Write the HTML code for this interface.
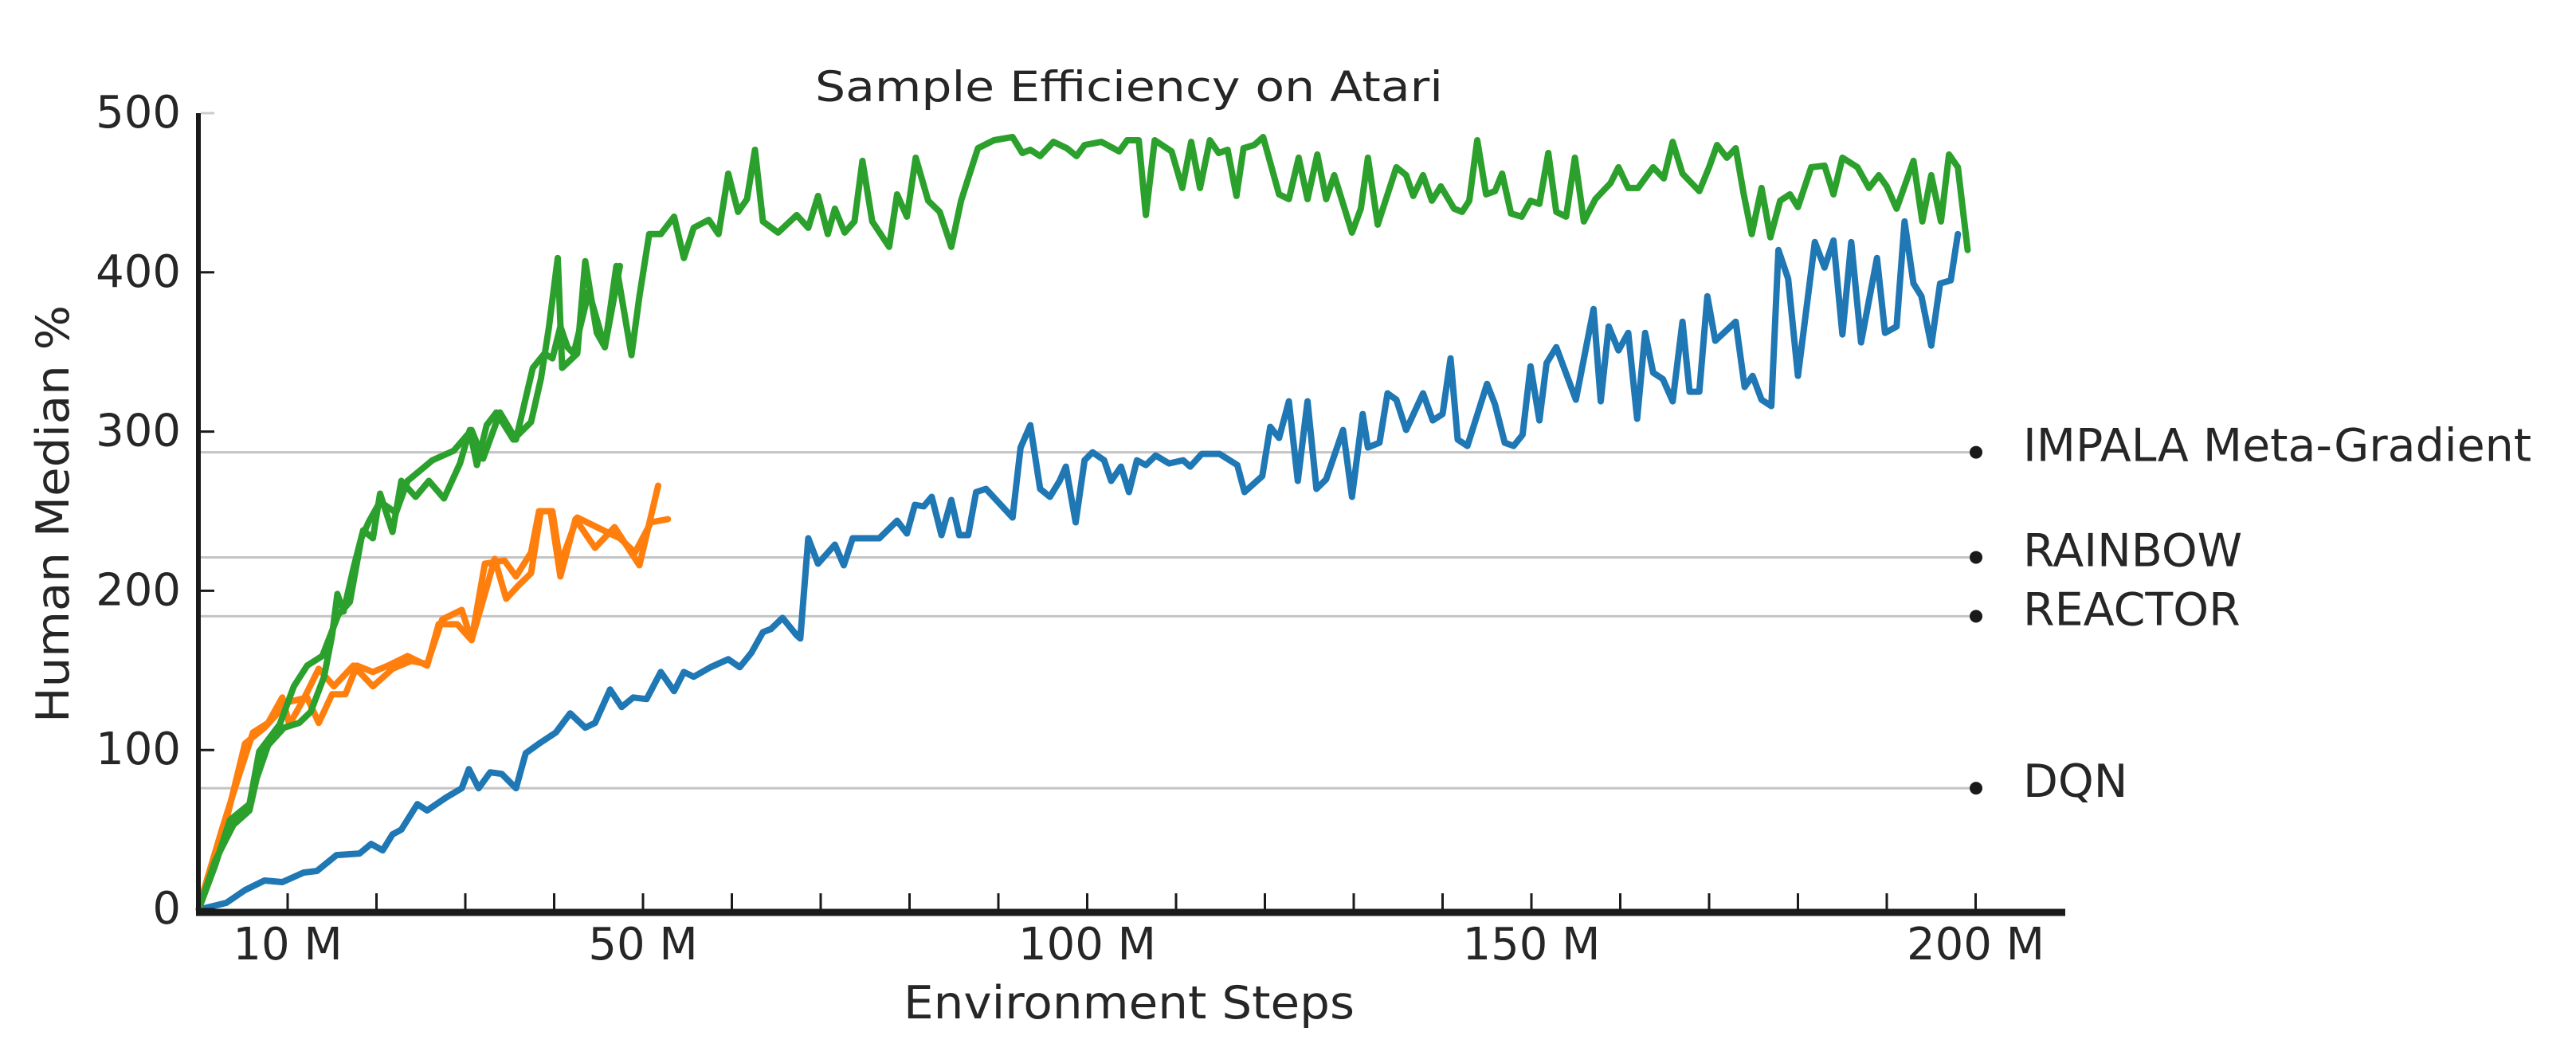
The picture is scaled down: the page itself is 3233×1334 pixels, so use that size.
<!DOCTYPE html>
<html><head><meta charset="utf-8"><style>
html,body{margin:0;padding:0;background:#fff;}
svg{display:block;}
text{font-family:"DejaVu Sans","Liberation Sans",sans-serif;fill:#262626;}
</style></head>
<body>
<svg id="chart" width="3233" height="1334" viewBox="0 0 3233 1334" xmlns="http://www.w3.org/2000/svg">
<text x="1417" y="127" font-size="53" text-anchor="middle" textLength="788" lengthAdjust="spacingAndGlyphs">Sample Efficiency on Atari</text>
<text x="1417" y="1278" font-size="57" text-anchor="middle" textLength="566" lengthAdjust="spacingAndGlyphs">Environment Steps</text>
<text x="0" y="0" font-size="57" text-anchor="middle" textLength="524" lengthAdjust="spacingAndGlyphs" transform="translate(86,645) rotate(-90)">Human Median %</text>
<g id="grid"></g><g id="series"></g><g id="axes"></g>
</svg>
<script>
const yTicks=[0,100,200,300,400,500];
const xTickSteps=[10,20,30,40,50,60,70,80,90,100,110,120,130,140,150,160,170,180,190,200];
const xLabelSteps=[10,50,100,150,200];
const xLabels=["10 M","50 M","100 M","150 M","200 M"];
const refNames=["IMPALA Meta-Gradient","RAINBOW","REACTOR","DQN"];
const refValues=[287,221,184,76];

const blueSteps=[0.2,3.1,5.2,7.4,9.4,11.8,13.3,15.5,18.1,19.4,20.7,21.8,22.8,24.6,25.7,27.8,29.6,30.4,31.5,32.8,34.1,35.7,36.8,38.3,40.2,41.8,43.5,44.6,46.3,47.6,48.9,50.4,52,53.5,54.6,55.7,57.6,59.6,60.9,62.2,63.5,64.4,65.7,67.3,67.7,68.6,69.7,71.6,72.6,73.6,76.6,78.6,79.7,80.6,81.6,82.5,83.6,84.7,85.6,86.6,87.5,88.6,91.6,92.5,93.6,94.7,95.8,96.9,97.6,98.7,99.7,100.6,101.9,102.7,103.8,104.7,105.6,106.6,107.7,109.2,110.8,111.6,112.9,114.9,116.9,117.7,119.7,120.6,121.6,122.7,123.7,124.8,125.8,126.9,128.8,129.8,131,131.6,132.9,133.8,134.8,135.9,137.8,138.9,140,140.9,141.7,142.8,145,145.9,147,148,149,149.9,150.9,151.7,152.8,155,157,157.8,158.7,159.8,160.9,161.9,162.8,163.7,164.8,165.9,167,167.8,168.9,169.8,170.7,173,174,174.9,175.9,177,177.8,178.9,180,181.9,183,184,185,186,187.1,188.9,189.8,191.1,192,193,193.9,195,196,197.2,198];
const blueValues=[0,4,12,18,17,23,24,34,35,41,37,47,50,66,62,70,76,88,76,86,85,76,98,104,111,123,114,117,138,127,133,132,149,137,149,146,152,157,152,161,174,176,183,172,170,233,217,229,216,233,233,244,236,254,253,259,235,257,235,235,262,264,246,290,304,264,259,269,278,243,282,287,282,269,278,262,282,279,285,280,282,278,286,286,279,262,272,303,296,319,269,319,264,270,301,259,311,290,293,324,320,301,324,307,311,346,295,291,330,317,293,291,298,341,307,343,353,320,377,319,366,351,362,308,362,337,333,319,369,325,325,385,357,369,328,335,320,316,414,396,335,419,403,420,361,419,356,409,362,366,432,393,385,354,393,395,424];

const greenASteps=[0,1.8,3.9,5.7,6.5,7.8,9.6,11.3,12.6,14.1,15,15.6,16.3,17.4,18.5,19.6,20.4,21.8,22.8,24.4,25.9,27.6,29.4,30.5,31.3,32.4,33.5,35.4,37.4,38.5,39.4,40.4,40.9,42.6,43.5,44.8,45.7,47,48.7,49.6,50.7,52,53.5,54.6,55.7,57.4,58.5,59.6,60.7,61.7,62.6,63.5,65.2,67.3,68.6,69.7,70.8,71.6,72.7,73.8,74.7,75.8,77.7,78.6,79.7,80.7,82.1,83.4,84.7,85.8,86.6,87.7,89.5,91.6,92.7,93.6,94.7,96.2,97.7,98.8,99.7,101.6,103.6,104.5,105.8,106.6,107.6,109.5,110.7,111.7,112.7,113.8,114.8,115.8,116.8,117.6,118.8,119.8,121.6,122.7,123.8,124.8,125.9,126.9,127.8,129.8,130.8,131.6,132.7,134.8,135.9,136.7,137.8,138.8,139.8,141.3,142.2,143,143.9,144.9,145.9,146.7,147.7,148.9,149.9,150.9,151.9,152.8,153.9,154.9,155.9,157.2,158.9,159.8,160.9,162,163.7,164.9,165.9,167,168.9,170,170.9,172,173,173.9,174.8,175.9,176.9,178,179.1,180,181.5,183,184,185,186.7,188,189.1,190,191.1,193,194,195,196.1,197,198,199.1];
const greenAValues=[0,30,53,62,82,103,114,117,124,146,172,198,187,214,238,233,261,237,269,259,269,258,280,301,279,304,312,295,306,333,365,409,340,349,407,362,353,404,348,385,424,424,435,409,428,433,424,462,438,446,477,432,425,436,428,448,424,440,425,432,470,432,416,449,435,472,445,438,416,445,459,478,483,485,475,477,473,482,478,473,480,482,476,483,483,436,483,476,453,482,453,483,475,477,448,478,480,485,449,446,472,446,474,446,461,425,440,472,430,466,461,448,461,445,454,440,438,445,483,449,451,462,437,435,445,443,475,438,435,472,432,446,456,466,453,453,466,459,482,462,451,466,480,472,478,449,424,453,422,445,449,441,466,467,449,472,466,453,461,454,440,470,432,461,432,474,466,414];
const greenBSteps=[0,1.8,3.5,5.7,6.8,9.1,10.7,12.2,13.9,15.7,17,18.3,19.1,20.4,22.2,23.5,24.8,26.3,28.7,30.7,32,33.9,35.7,37.6,38.9,39.8,40.7,41.5,42.2,43.9,45.7,47.4];
const greenBValues=[0,27,56,66,99,116,140,153,159,185,193,233,243,256,249,269,275,282,288,301,283,312,295,340,349,346,366,353,349,388,353,404];

const orangeASteps=[0.2,2.6,4.4,6.1,7.8,9.4,10.2,11.8,13.5,15.2,17.4,19.6,21.8,23.9,25.7,27.4,29.6,30.7,32.2,34.4,35.7,37.4,38.3,39.6,40.7,42.4,44.6,46.8,49.6,51.7];
const orangeAValues=[5,50,82,111,117,133,116,132,151,140,153,140,151,156,154,182,188,169,217,219,209,224,250,250,209,245,227,240,216,266];
const orangeBSteps=[0,3.1,5.2,7.4,10,12.2,13.5,15,16.5,17.8,19.6,21.3,23.5,25.7,27,29.1,30.7,32.2,33.3,34.6,36.1,37.4,38.5,39.8,40.7,42.6,44.8,47.4,49.1,50.9,52.8];
const orangeBValues=[0,56,104,114,130,133,117,135,135,153,149,153,159,153,179,179,169,198,220,195,204,211,250,250,217,246,240,233,224,243,245];

const NS='http://www.w3.org/2000/svg';
const X0=249.5, XK=11.15, Y0=1141, YK=1.998, XREF=2480;
function xScale(m){return X0+m*XK;}
function yScale(v){return Y0-v*YK;}
function mk(tag,attrs,parent){const e=document.createElementNS(NS,tag);for(const k in attrs)e.setAttribute(k,attrs[k]);parent.appendChild(e);return e;}
const grid=document.getElementById('grid'), series=document.getElementById('series'), axes=document.getElementById('axes');

refValues.forEach((v,i)=>{
  const y=yScale(v);
  const ln=mk('line',{x1:252,x2:XREF,y1:y,y2:y,stroke:'#c4c4c4','stroke-width':3},grid);
  
  
  const dot=mk('circle',{cx:XREF,cy:y,r:8,fill:'#1a1a1a'},grid);
  
  
  const t=mk('text',{x:2539,y:y+11,'font-size':57},grid);
  t.textContent=refNames[i];
  
  
});

function drawSeries(steps,vals,color,name){
  const d=steps.map((s,i)=>(i?'L':'M')+xScale(s).toFixed(1)+' '+yScale(vals[i]).toFixed(1)).join(' ');
  const p=mk('path',{d:d,fill:'none',stroke:color,'stroke-width':8,'stroke-linejoin':'round','stroke-linecap':'round'},series);
  
  
}
drawSeries(blueSteps,blueValues,'#1f77b4','dqn-series');
drawSeries(orangeBSteps,orangeBValues,'#ff7f0e','orange-series-run-b');
drawSeries(orangeASteps,orangeAValues,'#ff7f0e','orange-series-run-a');
drawSeries(greenBSteps,greenBValues,'#2ca02c','meta-gradient-series-run-b');
drawSeries(greenASteps,greenAValues,'#2ca02c','meta-gradient-series-run-a');

const ya=mk('line',{x1:249,x2:249,y1:yScale(500),y2:Y0+6,stroke:'#1a1a1a','stroke-width':6},axes);


const xa=mk('line',{x1:246,x2:2592,y1:Y0+4,y2:Y0+4,stroke:'#1a1a1a','stroke-width':9},axes);



yTicks.forEach(v=>{
  const y=yScale(v);
  const tk=mk('line',{x1:252,x2:269,y1:y,y2:y,stroke:v===500?'#cccccc':'#1a1a1a','stroke-width':3},axes);
  
  
  const t=mk('text',{x:227,y:y+18,'font-size':56,'text-anchor':'end'},axes);
  t.textContent=String(v);
  
  
});
xTickSteps.forEach(s=>{
  const x=xScale(s);
  const tk=mk('line',{x1:x,x2:x,y1:Y0-20,y2:Y0,stroke:'#1a1a1a','stroke-width':3},axes);
  
  
});
xLabelSteps.forEach((s,i)=>{
  const t=mk('text',{x:xScale(s),y:1204,'font-size':56,'text-anchor':'middle'},axes);
  t.textContent=xLabels[i];
  
  
});
</script>
</body></html>
